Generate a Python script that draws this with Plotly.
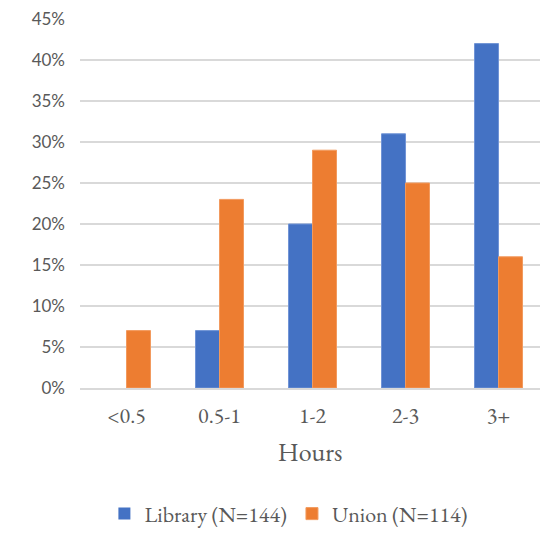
import plotly.graph_objects as go

categories = ["<0.5", "0.5-1", "1-2", "2-3", "3+"]
library = [0.00, 0.07, 0.20, 0.31, 0.42]
union = [0.07, 0.23, 0.29, 0.25, 0.16]
series_names = ["Library (N=144)", "Union (N=114)"]
y_ticks = [0, 0.05, 0.10, 0.15, 0.20, 0.25, 0.30, 0.35, 0.40, 0.45]

serif = "EB Garamond, Garamond, Liberation Serif, serif"
grey = "#595959"


def edge_widths(vals):
    return [0 if v == 0 else 1 for v in vals]


fig = go.Figure()
fig.add_trace(go.Bar(x=categories, y=library, name=series_names[0],
                     marker=dict(color="#4472C4",
                                 line=dict(color="#7094d6", width=edge_widths(library)))))
fig.add_trace(go.Bar(x=categories, y=union, name=series_names[1],
                     marker=dict(color="#ED7D31",
                                 line=dict(color="#f29a5e", width=edge_widths(union)))))

fig.update_layout(
    width=540, height=533,
    margin=dict(l=80, r=0, t=19, b=145, autoexpand=False),
    paper_bgcolor="white", plot_bgcolor="white",
    barmode="group", bargap=0.484, bargroupgap=0,
    showlegend=True,
    legend=dict(orientation="h", xref="container", yref="container",
                x=0.535, xanchor="center", y=0.036, yanchor="middle",
                font=dict(family=serif, size=22, color=grey), itemwidth=30,
                traceorder="normal"),
    font=dict(family=serif, color=grey),
)
fig.update_xaxes(
    range=[-0.5, 4.446], automargin=False,
    showgrid=False, showline=True, linecolor="#D9D9D9", linewidth=1.5,
    ticks="", tickfont=dict(family=serif, size=22, color=grey),
    ticklabelstandoff=7,
    title=dict(text="Hours", font=dict(family=serif, size=26, color=grey), standoff=14),
)
fig.update_yaxes(
    range=[0, 0.45], tickvals=y_ticks, tickformat=".0%", automargin=False,
    showgrid=True, gridcolor="#D9D9D9", gridwidth=1.5,
    zeroline=False, showline=False, ticks="",
    tickfont=dict(family="Lato", size=17, color=grey),
    ticklabelstandoff=14,
)

fig.write_html("out.html")
